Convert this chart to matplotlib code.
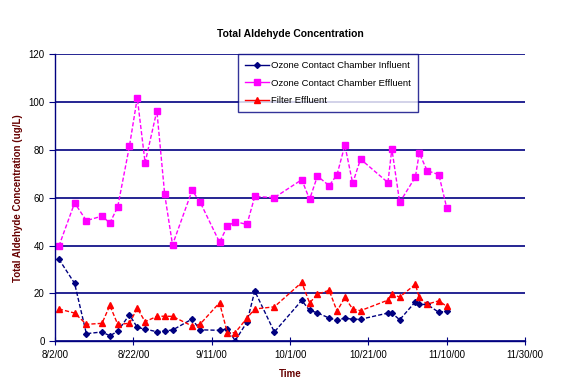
import pandas as pd
import numpy as np

import matplotlib as mpl
mpl.use('Agg')
import matplotlib.pyplot as plt
import matplotlib.dates as mdates

plt.rcParams['font.family'] = ['Liberation Sans', 'DejaVu Sans']

NAVY = '#000080'
LABEL_COLOR = '#660000'

dates = pd.to_datetime([
    '2000-08-03', '2000-08-07', '2000-08-10', '2000-08-14', '2000-08-16', '2000-08-18',
    '2000-08-21', '2000-08-23', '2000-08-25', '2000-08-28', '2000-08-30', '2000-09-01',
    '2000-09-06', '2000-09-08', '2000-09-13', '2000-09-15', '2000-09-17', '2000-09-20',
    '2000-09-22', '2000-09-27', '2000-10-04', '2000-10-06', '2000-10-08', '2000-10-11',
    '2000-10-13', '2000-10-15', '2000-10-17', '2000-10-19', '2000-10-26', '2000-10-27',
    '2000-10-29', '2000-11-02', '2000-11-03', '2000-11-05', '2000-11-08', '2000-11-10',
])

influent = [34.3, 24.2, 3.2, 3.9, 2.3, 4.2, 11.1, 5.8, 5.1, 4.0, 4.4, 4.7,
            9.3, 4.8, 4.6, 5.2, 0.3, 8.0, 21.0, 3.9, 17.1, 12.9, 11.9, 9.7,
            8.8, 9.7, 9.2, 9.2, 11.8, 11.8, 9.0, 16.5, 15.4, 15.4, 12.1, 12.6]

effluent = [39.8, 57.8, 50.4, 52.3, 49.4, 56.1, 81.5, 101.7, 74.6, 96.3, 61.4, 40.3,
            63.0, 58.3, 41.4, 48.0, 50.0, 48.8, 60.5, 60.0, 67.5, 59.3, 69.0, 65.0,
            69.6, 81.9, 66.0, 76.1, 66.3, 80.4, 58.0, 68.6, 78.6, 71.3, 69.6, 55.8]

filter_eff = [13.5, 11.8, 7.1, 7.5, 15.0, 7.1, 7.5, 13.8, 8.2, 10.4, 10.5, 10.4,
              6.4, 7.1, 16.1, 3.6, 3.6, 9.7, 13.5, 14.4, 24.6, 16.0, 19.7, 21.3,
              12.6, 18.3, 13.5, 12.8, 17.2, 19.6, 18.5, 23.8, 18.3, 15.5, 16.9, 14.6]

x_ticks = pd.date_range('2000-08-02', '2000-11-30', freq='20D')

fig = plt.figure(figsize=(5.69, 3.89), dpi=100)
ax = fig.add_axes([0.0967, 0.1226, 0.826, 0.7386])

dash = (0, (3, 1.5))
ax.plot(dates, influent, color=NAVY, lw=1, ls=dash, marker='D', ms=3,
        label='Ozone Contact Chamber Influent')
ax.plot(dates, effluent, color='#FF00FF', lw=1, ls=dash, marker='s', ms=4.5,
        label='Ozone Contact Chamber Effluent')
ax.plot(dates, filter_eff, color='#FF0000', lw=1, ls=dash, marker='^', ms=4.5,
        label='Filter Effluent')

ax.set_xlim(x_ticks[0], x_ticks[-1])
ax.set_ylim(0, 120)
ax.set_yticks(np.arange(0, 121, 20))
ax.set_xticks(x_ticks)
ax.xaxis.set_major_formatter(mdates.DateFormatter('%-m/%-d/%y'))

ax.grid(axis='y', color=NAVY, lw=1.2)
ax.set_axisbelow(True)
for side in ['top', 'right']:
    ax.spines[side].set_visible(False)
for side in ['left', 'bottom']:
    ax.spines[side].set_color(NAVY)
    ax.spines[side].set_linewidth(1)
ax.tick_params(axis='both', colors=NAVY, labelcolor='black', labelsize=7,
               direction='out', length=4)
ax.tick_params(axis='x', direction='inout', length=6)

ax.set_title('Total Aldehyde Concentration', fontsize=7.5, fontweight='bold', pad=12)
ax.set_xlabel('Time', fontsize=7, fontweight='bold', color=LABEL_COLOR, labelpad=6)
ax.set_ylabel('Total Aldehyde Concentration (ug/L)', fontsize=7, fontweight='bold',
              color=LABEL_COLOR, labelpad=4)

leg = ax.legend(loc='upper left', bbox_to_anchor=(0.38, 1.015), fontsize=6.8,
                frameon=True, fancybox=False, borderpad=0.7, labelspacing=0.9,
                handlelength=2.5, handletextpad=0.3, borderaxespad=0.5)
leg.get_frame().set_edgecolor(NAVY)
leg.get_frame().set_linewidth(1)
for line in leg.get_lines():
    line.set_linestyle('-')

fig.savefig('out.png', dpi=100)
